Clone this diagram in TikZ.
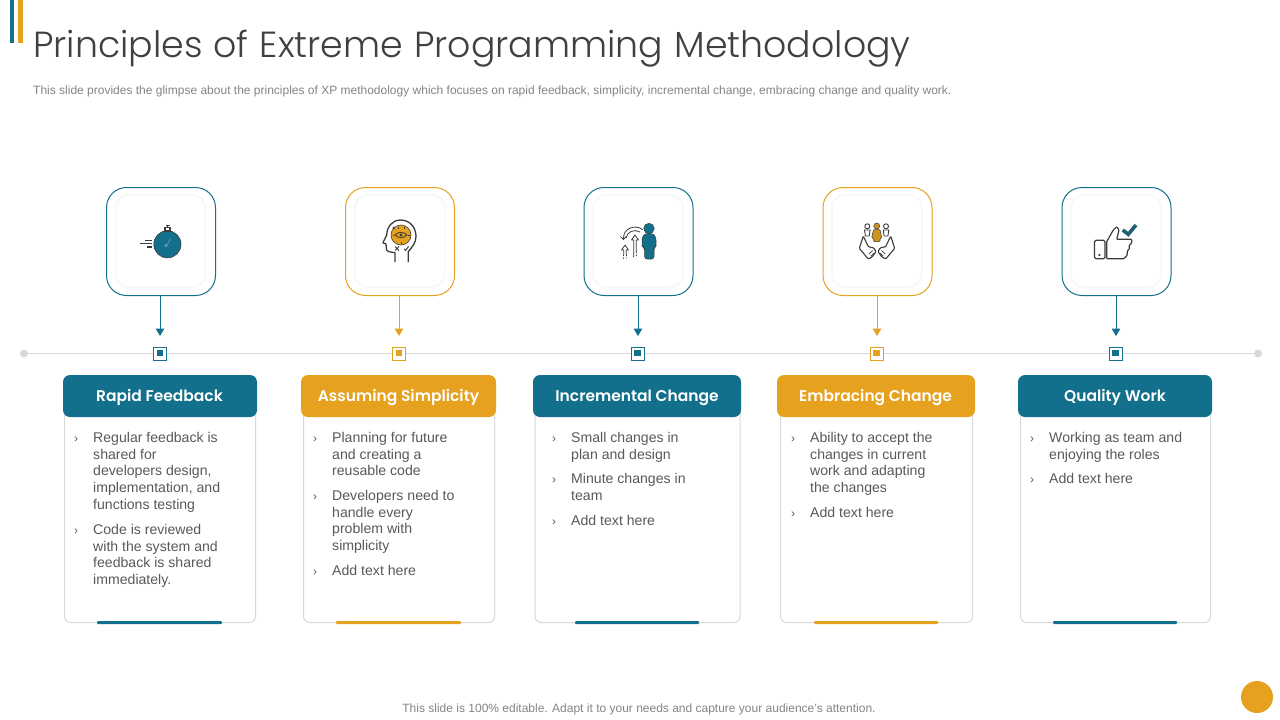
\documentclass[tikz,border=0pt]{standalone}
\usepackage{fontspec}
\usetikzlibrary{arrows.meta}
\setmainfont{Liberation Sans}
\newfontfamily\popfont[WordSpace=1.12]{Poppins Light}
\newfontfamily\headfont{Poppins SemiBold}
\definecolor{teal}{HTML}{12708C}
\definecolor{gold}{HTML}{E6A11E}
\definecolor{ink}{HTML}{404040}
\definecolor{bodyink}{HTML}{595959}
\definecolor{mute}{HTML}{858585}
\definecolor{rule}{HTML}{D9D9D9}
\definecolor{dk}{HTML}{3C3C3C}
\tikzset{
 iconbox/.style={draw=#1,fill=white,line width=1pt,rounded corners=20pt,minimum width=109pt,minimum height=108pt,inner sep=0pt},
 innerbox/.style={draw=black!3,fill=white,line width=1.6pt,rounded corners=13pt,minimum width=90pt,minimum height=92pt,inner sep=0pt},
 marker/.style={draw=#1,fill=white,line width=.9pt,minimum size=13pt,inner sep=0pt},
 markerdot/.style={fill=#1,minimum size=6.5pt,inner sep=0pt},
 linkarrow/.style={draw=#1,line width=1pt,-{Triangle[length=7.5pt,width=8.5pt]}},
 headbox/.style={fill=#1,rounded corners=7pt,minimum height=42pt,inner sep=0pt,text=white},
 headlabel/.style={inner sep=0pt,anchor=base,text=white,font=\headfont\fontsize{15.5}{19}\selectfont},
 cardbox/.style={draw=rule,fill=white,line width=1pt,rounded corners=6pt,inner sep=0pt},
 footbar/.style={fill=#1,rounded corners=1pt,minimum height=3pt,inner sep=0pt},
 bodytext/.style={anchor=north west,inner sep=0pt,align=left,text=bodyink,font=\fontsize{14.1}{16.75}\selectfont},
 tick/.style={anchor=center,inner sep=0pt,text=bodyink,font=\fontsize{12}{14}\selectfont},
 endpoint/.style={circle,fill=rule,minimum size=8pt,inner sep=0pt},
 iconline/.style={draw=dk,line width=1pt,line join=round,line cap=round},
}
\begin{document}
\begin{tikzpicture}[x=1pt,y=-1pt]
\useasboundingbox (0,0) rectangle (1280,720);
\fill[white] (0,0) rectangle (1280,720);
% top bars
\fill[teal] (10,0) rectangle (14,43);
\fill[gold] (18,0) rectangle (23,43);
\node[anchor=base west,inner sep=0pt,text=ink] (title) at (33,57.5) {\popfont\fontsize{36.3}{44}\selectfont Principles of Extreme Programming Methodology};
\node[anchor=base west,inner sep=0pt,text=mute] (sub) at (33,94.5) {\fontsize{12}{14}\selectfont This slide provides the glimpse about the principles of XP methodology which focuses on rapid feedback, simplicity, incremental change, embracing change and quality work.};
% timeline
\node[endpoint] (dl) at (24,353.5) {};
\node[endpoint] (dr) at (1258,353.5) {};
\draw[rule,line width=1pt] (dl) -- (dr);
% icon boxes
\node[iconbox=teal] (b1) at (161,241.5) {};
\node[iconbox=gold] (b2) at (400,241.5) {};
\node[iconbox=teal] (b3) at (638.5,241.5) {};
\node[iconbox=gold] (b4) at (877.5,241.5) {};
\node[iconbox=teal] (b5) at (1116.5,241.5) {};
\node[innerbox] (i1) at (160.6,241) {};
\node[innerbox] (i2) at (399.6,241) {};
\node[innerbox] (i3) at (638,241) {};
\node[innerbox] (i4) at (877,241) {};
\node[innerbox] (i5) at (1116,241) {};
% markers
\node[marker=teal] (m1) at (160,354) {};
\node[marker=gold] (m2) at (399,354) {};
\node[marker=teal] (m3) at (638,354) {};
\node[marker=gold] (m4) at (877,354) {};
\node[marker=teal] (m5) at (1116,354) {};
\node[markerdot=teal] (d1) at (160,353) {};
\node[markerdot=gold] (d2) at (399,353) {};
\node[markerdot=teal] (d3) at (637.5,353) {};
\node[markerdot=gold] (d4) at (876.5,353) {};
\node[markerdot=teal] (d5) at (1115.5,353) {};
% connectors
\draw[linkarrow=teal,shorten >=11pt] (m1.north |- b1.south) -- (m1.north);
\draw[linkarrow=gold,shorten >=11pt] (m2.north |- b2.south) -- (m2.north);
\draw[linkarrow=teal,shorten >=11pt] (m3.north |- b3.south) -- (m3.north);
\draw[linkarrow=gold,shorten >=11pt] (m4.north |- b4.south) -- (m4.north);
\draw[linkarrow=teal,shorten >=11pt] (m5.north |- b5.south) -- (m5.north);
% cards
\node[cardbox,minimum width=191pt,minimum height=220pt] (c1) at (160,512.5) {};
\node[cardbox,minimum width=191pt,minimum height=220pt] (c2) at (399,512.5) {};
\node[cardbox,minimum width=205pt,minimum height=220pt] (c3) at (637.5,512.5) {};
\node[cardbox,minimum width=192pt,minimum height=220pt] (c4) at (876.5,512.5) {};
\node[cardbox,minimum width=190pt,minimum height=220pt] (c5) at (1115.5,512.5) {};
\node[footbar=teal,minimum width=125pt] (f1) at (159.5,622.5) {};
\node[footbar=gold,minimum width=125pt] (f2) at (398.5,622.5) {};
\node[footbar=teal,minimum width=124pt] (f3) at (637,622.5) {};
\node[footbar=gold,minimum width=124pt] (f4) at (876,622.5) {};
\node[footbar=teal,minimum width=124pt] (f5) at (1115,622.5) {};
% headers
\node[headbox=teal,minimum width=194pt] (h1) at (160,396) {};
\node[headbox=gold,minimum width=195pt] (h2) at (398.5,396) {};
\node[headbox=teal,minimum width=208pt] (h3) at (637,396) {};
\node[headbox=gold,minimum width=198pt] (h4) at (876,396) {};
\node[headbox=teal,minimum width=194pt] (h5) at (1115,396) {};
\node[headlabel] (l1) at (159.5,401.5) {Rapid Feedback};
\node[headlabel] (l2) at (398.5,401.5) {Assuming Simplicity};
\node[headlabel] (l3) at (637,401.5) {Incremental Change};
\node[headlabel] (l4) at (875.5,401.5) {Embracing Change};
\node[headlabel] (l5) at (1115,401.5) {Quality Work};
% body text column 1
\node[tick] (t11) at (76,439.5) {›};
\node[bodytext] (p11) at (93,432) {Regular feedback is\\shared for\\developers design,\\implementation, and\\functions testing};
\node[tick] (t12) at (76,531.5) {›};
\node[bodytext] (p12) at (93,524) {Code is reviewed\\with the system and\\feedback is shared\\immediately.};
% column 2
\node[tick] (t21) at (315,439.5) {›};
\node[bodytext] (p21) at (332,432) {Planning for future\\and creating a\\reusable code};
\node[tick] (t22) at (315,497.5) {›};
\node[bodytext] (p22) at (332,490) {Developers need to\\handle every\\problem with\\simplicity};
\node[tick] (t23) at (315,572.5) {›};
\node[bodytext] (p23) at (332,565) {Add text here};
% column 3
\node[tick] (t31) at (554,439.5) {›};
\node[bodytext] (p31) at (571,432) {Small changes in\\plan and design};
\node[tick] (t32) at (554,480.5) {›};
\node[bodytext] (p32) at (571,473) {Minute changes in\\team};
\node[tick] (t33) at (554,522.5) {›};
\node[bodytext] (p33) at (571,515) {Add text here};
% column 4
\node[tick] (t41) at (793,439.5) {›};
\node[bodytext] (p41) at (810,432) {Ability to accept the\\changes in current\\work and adapting\\the changes};
\node[tick] (t42) at (793,514.5) {›};
\node[bodytext] (p42) at (810,507) {Add text here};
% column 5
\node[tick] (t51) at (1032,439.5) {›};
\node[bodytext] (p51) at (1049,432) {Working as team and\\enjoying the roles};
\node[tick] (t52) at (1032,480.5) {›};
\node[bodytext] (p52) at (1049,473) {Add text here};
% footer
\node[anchor=base,inner sep=0pt,text=mute] (foot) at (639,712.5) {\fontsize{12}{14}\selectfont This slide is 100\% editable. Adapt it to your needs and capture your audience's attention.};
\fill[gold] (1257,697) circle (16);
% icon 1: stopwatch
\fill[teal,draw=dk,line width=.6pt] (167.4,244.3) circle (13.6);
\draw[dk,line width=1.1pt] (165,231) rectangle (170,227.5);
\draw[dk,line width=1.1pt] (165.5,225.3) -- (169.5,225.3) (167.5,225.3) -- (167.5,227.5);
\draw[dk,line width=1.1pt] (145,240.7) -- (152,240.7) (140,243.8) -- (152,243.8) (147,247) -- (152,247);
\draw[white!35!teal,line width=.7pt] (167.4,244.3) -- (170.5,238.5);
\draw[white!35!teal,line width=.7pt] (166,245.5) circle (1.3);
% icon 2: head
\draw[iconline,line width=1.3pt] (395,261.7) -- (395,252.7) -- (389,251.7) .. controls (386.5,251.3) and (386,249.5) .. (386.3,247.5) -- (386,244) -- (382.9,242.7) -- (386.7,235) .. controls (387,226) and (393,220) .. (400.5,220) .. controls (409.5,220) and (416,227) .. (416,236.5) .. controls (416,243) and (412,247) .. (408.3,251.7) -- (408.3,261.7);
\fill[gold,draw=dk,line width=.6pt] (401,235) circle (10);
\draw[dk,line width=.9pt] (395,235) .. controls (398,231.5) and (404,231.5) .. (407,235) .. controls (404,238.5) and (398,238.5) .. (395,235) -- cycle;
\fill[dk] (401,235) circle (1.6);
\draw[dk,line width=.8pt] (398,227) -- (398,228.5) (404,227) -- (404,228.5) (392.5,235) -- (394,235) (408,235) -- (409.5,235) (401,242) -- (401,243.5);
\fill[dk] (393.8,228) circle (1.4);
\draw[dk,line width=1pt] (395,246.5) -- (399,250.5) (399,246.5) -- (395,250.5) (404,249) -- (405.5,250.5) -- (408.5,246.5);
% icon 3: person and arrows
\fill[teal,draw=dk,line width=.4pt] (649,228.5) circle (5.3);
\fill[teal,draw=dk,line width=.5pt,rounded corners=2.5pt] (645,233.5) -- (653,233.5) -- (656,237.5) -- (656,246) -- (654,248) -- (654,259) -- (644.5,259) -- (644.5,248) -- (642,246) -- (642,237.5) -- cycle;
\draw[iconline,line width=.8pt,-{Straight Barb[length=3pt,width=6pt]}] (642.5,229.5) .. controls (635,224) and (623,228) .. (623.5,240);
\draw[iconline,line width=.8pt] (640,232) .. controls (634,228.5) and (627,232) .. (626,238);
\draw[iconline,line width=.8pt] (633.8,256) -- (633.8,240) -- (631.5,240) -- (635,235) -- (638.5,240) -- (636.2,240) -- (636.2,252);
\draw[iconline,line width=.8pt,dotted] (633.8,256) -- (633.8,258.5) (636.2,252) -- (636.2,257);
\draw[iconline,line width=.8pt] (623.8,255) -- (623.8,250) -- (621.5,250) -- (625,245) -- (628.5,250) -- (626.2,250) -- (626.2,255);
\draw[iconline,line width=.8pt,dotted] (623.8,255) -- (623.8,258.5) (626.2,255) -- (626.2,258);
% icon 4: hands and people
\fill[gold!85!dk,draw=dk,line width=.5pt,rounded corners=1pt] (873.5,229.5) -- (880,229.5) -- (881.8,238) -- (880,238) -- (880,241.7) -- (873.5,241.7) -- (873.5,238) -- (871.6,238) -- cycle;
\fill[gold!85!dk,draw=dk,line width=.5pt] (876.7,226) circle (3);
\draw[iconline,line width=.9pt] (867.3,226.3) circle (2.5) (886,226.3) circle (2.5);
\draw[iconline,line width=.9pt] (865.4,236) -- (864.5,230) -- (870.1,230) -- (869.2,236) -- cycle (884.1,236) -- (883.2,230) -- (888.8,230) -- (887.9,236) -- cycle;
\draw[iconline,line width=1.1pt,rounded corners=1pt] (863.3,236) -- (859.3,248.3) -- (868.3,259) -- (872,257) -- (876,251.7) -- (874,248) -- (868.3,246.7) -- cycle;
\draw[iconline,line width=1.1pt,rounded corners=1pt] (890.7,236) -- (894.7,248.3) -- (885.7,259) -- (882,257) -- (878,251.7) -- (880,248) -- (885.7,246.7) -- cycle;
\draw[iconline,line width=.7pt] (869,254) -- (872.5,250.5) (871,256) -- (874,253) (885,254) -- (881.5,250.5) (883,256) -- (880,253);
% icon 5: phone and thumb
\draw[iconline,line width=1.2pt,rounded corners=1.5pt] (1094.4,240.3) rectangle (1105,258.7);
\fill[dk] (1099.4,255) circle (1.3);
\draw[iconline,line width=1.2pt,rounded corners=.8pt] (1106.7,258.7) -- (1106.7,241.7) -- (1113.3,230) -- (1116.7,226.7) -- (1119,230) -- (1116.7,239.3) -- (1131.7,239.3) -- (1131.7,243.3) -- (1129.3,245) -- (1129.3,249.3) -- (1127.3,250.7) -- (1127.3,255) -- (1124,258.7) -- cycle;
\draw[teal!70!dk,line width=3.6pt] (1122.7,230) -- (1128.3,234.3) -- (1136,225);
\end{tikzpicture}
\end{document}
